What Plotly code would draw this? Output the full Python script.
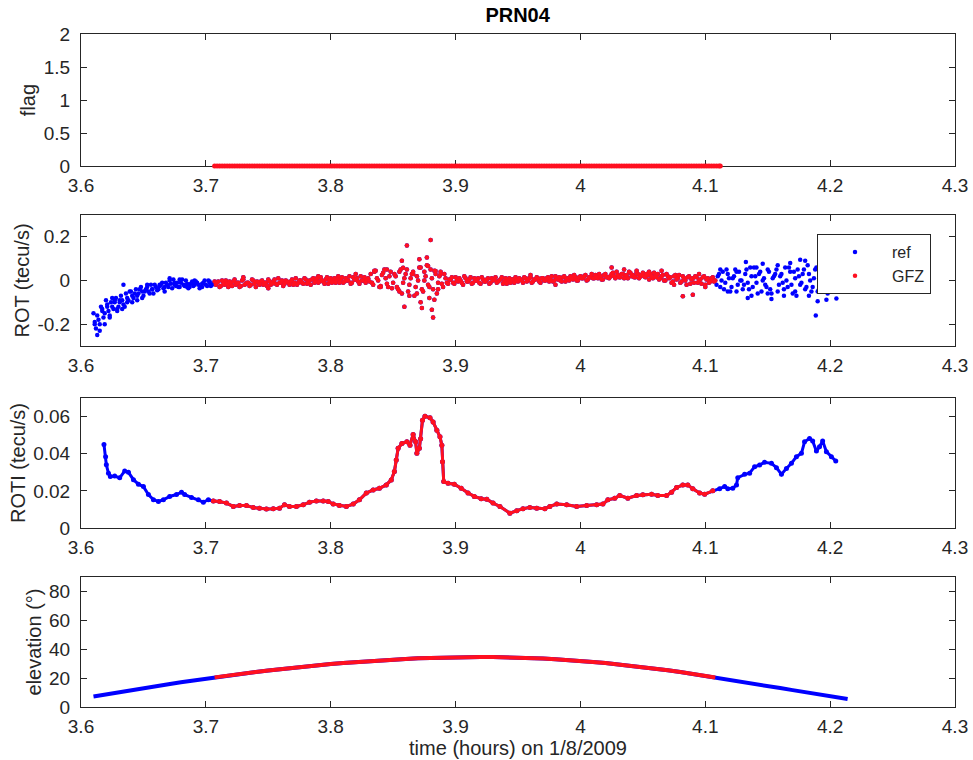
import plotly.graph_objects as go

# ---------------- DATA ----------------
# Arc of PRN04 on 1/8/2009; GFZ processed only inside this window (hours)
gfz_window = [3.707, 4.108]
flag_window = [3.707, 4.112]

# ROT (tecu/s): regular 0.002 h sampling starting at 3.610 h
rot_t0 = 3.610
rot_dt = 0.002
rot_vals = [
    # 3.610-3.630
    -0.15, -0.22, -0.18, -0.12, -0.17, -0.09, -0.14, -0.10, -0.13, -0.08, -0.12,
    # 3.632-3.660
    -0.07, -0.11, -0.06, -0.09, -0.05, -0.08, -0.04, -0.06, -0.03, -0.07, -0.04, -0.05, -0.02, -0.06, -0.03,
    # 3.662-3.706
    -0.04, -0.02, -0.035, -0.01, -0.03, -0.015, 0.005, -0.025, -0.03, -0.01, -0.02, 0.0,
    -0.035, -0.015, -0.025, -0.005, -0.02, -0.03, -0.01, -0.02, 0.0, -0.025, -0.015,
    # 3.708-3.830
    -0.02, -0.005, -0.025, -0.01, 0.0, -0.03, -0.015, -0.005, -0.02, -0.01,
    -0.025, 0.005, -0.015, -0.01, -0.02, 0.0, -0.03, -0.01, -0.005, -0.02,
    -0.01, 0.005, -0.02, -0.005, -0.015, 0.01, -0.01, -0.025, 0.0, -0.01,
    -0.005, -0.02, 0.01, -0.01, 0.0, -0.015, 0.005, -0.005, -0.02, 0.01,
    0.0, -0.01, 0.015, -0.005, 0.005, -0.015, 0.01, 0.0, -0.01, 0.02,
    0.005, -0.01, 0.01, 0.0, -0.015, 0.015, 0.005, -0.005, 0.02, 0.0, -0.01, 0.01,
    # 3.832-3.850
    0.03, -0.02, 0.045, 0.0, -0.025, 0.035, 0.01, -0.03, 0.04, -0.01,
    # 3.852-3.890
    0.02, -0.04, 0.05, -0.01, 0.03, -0.05, 0.01, 0.04, -0.03, 0.0,
    0.06, -0.05, 0.02, -0.02, 0.05, -0.04, 0.03, -0.01, 0.04, -0.03,
    # 3.892-3.950
    0.01, -0.015, 0.005, -0.01, 0.015, -0.005, 0.0, -0.02, 0.01, -0.005,
    0.015, -0.01, 0.0, 0.01, -0.015, 0.005, -0.005, 0.01, -0.01, 0.0,
    0.015, -0.005, 0.005, -0.015, 0.01, 0.0, -0.01, 0.005, 0.015, -0.005,
    # 3.952-4.060
    0.005, -0.01, 0.01, 0.0, 0.015, -0.005, 0.005, 0.01, -0.01, 0.01,
    0.0, 0.015, 0.005, -0.005, 0.02, 0.005, 0.0, 0.015, -0.005, 0.01,
    0.02, 0.005, 0.015, 0.0, 0.02, 0.01, 0.025, 0.005, 0.015, 0.01,
    0.025, 0.01, 0.02, 0.005, 0.03, 0.015, 0.02, 0.035, 0.01, 0.025,
    0.015, 0.03, 0.02, 0.01, 0.035, 0.025, 0.015, 0.03, 0.02, 0.035,
    0.015, 0.025, 0.03, 0.01, 0.02,
    # 4.062-4.108
    0.03, 0.01, 0.025, 0.0, 0.02, 0.015, -0.005, 0.025, 0.01, -0.01,
    0.02, 0.0, 0.015, -0.015, 0.01, 0.02, -0.01, 0.005, 0.015, -0.02,
    0.01, -0.005, 0.015, 0.0,
    # 4.110-4.214
    0.02, -0.03, 0.04, -0.01, 0.03, -0.05, 0.01, 0.05, -0.02, 0.0,
    -0.04, 0.03, -0.01, 0.06, -0.03, 0.02, -0.06, 0.04, 0.0, -0.02,
    0.05, -0.04, 0.01, 0.03, -0.05, 0.02, -0.01, 0.06, -0.03, 0.04,
    -0.06, 0.01, 0.05, -0.02, 0.03, -0.04, 0.07, 0.0, -0.03, 0.05,
    -0.05, 0.02, -0.01, 0.04, -0.06, 0.03, 0.0, -0.04, 0.05, -0.02,
    0.02, -0.03, 0.01,
]
# ROT second interleaved sampling: 0.002 h steps starting at 3.611 h
rot_t0_b = 3.611
rot_vals_b = [
    # 3.611-3.631
    -0.20, -0.16, -0.23, -0.13, -0.15, -0.11, -0.17, -0.12, -0.09, -0.13, -0.10,
    # 3.633-3.661
    -0.09, -0.12, -0.08, -0.05, -0.10, -0.06, -0.07, -0.04, -0.08, -0.05, -0.03, -0.06, -0.04, -0.02, -0.045,
    # 3.663-3.707
    -0.025, -0.01, -0.03, -0.02, 0.0, -0.035, -0.02, -0.01, -0.03, 0.005, -0.025, -0.015,
    -0.03, -0.005, -0.02, -0.01, -0.035, -0.015, 0.0, -0.025, -0.01, -0.02, -0.005,
    # 3.709-3.831
    -0.01, -0.03, 0.0, -0.02, -0.015, -0.005, -0.025, 0.005, -0.01, -0.03,
    0.0, -0.02, -0.01, -0.025, 0.005, -0.015, -0.005, -0.02, 0.0, -0.01,
    -0.025, -0.005, -0.015, 0.005, -0.02, -0.01, 0.0, -0.015, -0.005, -0.02,
    0.005, -0.01, -0.02, 0.0, -0.01, 0.01, -0.015, 0.0, 0.005, -0.01,
    0.01, -0.005, 0.0, -0.015, 0.015, 0.0, -0.01, 0.01, 0.005, -0.01,
    0.015, -0.005, 0.0, 0.02, -0.01, 0.005, 0.01, -0.015, 0.0, 0.015, 0.005, -0.005,
    # 3.833-3.851
    -0.01, 0.04, 0.01, -0.03, 0.025, 0.05, -0.015, 0.02, -0.035, 0.03,
    # 3.853-3.891
    -0.03, 0.04, -0.06, 0.01, 0.05, -0.02, 0.03, -0.07, 0.02, 0.06,
    -0.04, 0.0, 0.07, -0.03, 0.01, 0.045, -0.06, 0.02, -0.015, 0.03,
    # 3.893-3.951
    -0.01, 0.005, 0.015, -0.015, 0.0, 0.01, -0.01, 0.02, -0.005, 0.005,
    -0.015, 0.01, 0.0, -0.01, 0.015, -0.005, 0.005, -0.015, 0.01, 0.005,
    -0.01, 0.0, 0.015, -0.005, -0.015, 0.01, 0.005, -0.01, 0.0, 0.01,
    # 3.953-4.061
    0.0, 0.015, -0.005, 0.01, -0.01, 0.005, 0.015, -0.005, 0.01, 0.0,
    0.01, -0.005, 0.02, 0.0, 0.01, 0.015, -0.005, 0.02, 0.005, 0.0,
    0.01, 0.025, 0.0, 0.015, 0.01, 0.02, 0.0, 0.015, 0.03, 0.01,
    0.015, 0.03, 0.005, 0.025, 0.015, 0.01, 0.03, 0.02, 0.04, 0.015,
    0.03, 0.01, 0.025, 0.04, 0.02, 0.015, 0.035, 0.01, 0.025, 0.02,
    0.03, 0.005, 0.02, 0.035, 0.015,
    # 4.063-4.107
    0.005, 0.02, 0.0, 0.03, 0.01, -0.01, 0.02, 0.005, 0.025, -0.005,
    0.01, -0.02, 0.02, 0.005, -0.01, 0.015, 0.0, -0.015, 0.02, 0.005,
    -0.01, 0.01, -0.005,
    # 4.109-4.213
    -0.02, 0.03, 0.0, -0.04, 0.05, 0.01, -0.03, 0.02, -0.05, 0.04,
    0.0, -0.02, 0.05, -0.04, 0.02, 0.06, -0.01, 0.03, -0.05, 0.01,
    -0.03, 0.04, -0.06, 0.02, 0.05, -0.02, 0.03, -0.04, 0.0, 0.06,
    -0.02, 0.04, -0.07, 0.02, -0.01, 0.05, -0.03, 0.03, -0.05, 0.01,
    0.06, -0.04, 0.02, -0.02, 0.04, -0.05, 0.01, 0.03, -0.03, 0.02,
    -0.01, 0.04, -0.02,
]
# additional ROT samples (spread of the cloud and spikes)
rot_extra_t = [
    3.611, 3.613, 3.615, 3.617, 3.619, 3.621, 3.623, 3.625, 3.627, 3.629,
    3.631, 3.633, 3.634, 3.637, 3.641, 3.645, 3.649, 3.653, 3.657, 3.663,
    3.667, 3.671, 3.675, 3.679, 3.685, 3.691, 3.697, 3.703,
    3.855, 3.857, 3.858, 3.859, 3.861, 3.863, 3.866, 3.869, 3.871, 3.872,
    3.873, 3.875, 3.877, 3.878, 3.879, 3.880, 3.881, 3.882, 3.883, 3.884,
    3.886, 3.888, 3.845, 3.840, 3.835, 3.820, 3.790, 3.750, 3.730, 3.960,
    3.980, 4.025, 4.035, 4.045, 4.055, 4.065, 4.075, 4.082, 4.090, 4.095,
    4.100,
    4.112, 4.118, 4.125, 4.1325, 4.134, 4.137, 4.141, 4.146, 4.150, 4.153,
    4.158, 4.163, 4.168, 4.172, 4.176, 4.180, 4.183, 4.1885, 4.190, 4.193,
    4.197, 4.200, 4.205, 4.209, 4.212,
]
rot_extra_v = [
    -0.19, -0.25, -0.20, -0.14, -0.20, -0.12, -0.16, -0.08, -0.10, -0.14,
    -0.09, -0.13, -0.02, -0.10, -0.07, -0.09, -0.05, -0.02, -0.04, -0.02,
    -0.05, 0.01, -0.01, 0.005, -0.03, 0.0, -0.03, -0.005,
    -0.05, 0.09, 0.058, -0.12, 0.16, -0.07, 0.03, -0.06, 0.097, -0.10,
    -0.126, 0.04, 0.105, 0.066, -0.08, 0.185, -0.134, -0.169, -0.088, 0.043,
    -0.04, 0.03, 0.05, -0.03, 0.045, 0.03, 0.02, -0.035, 0.015, 0.025,
    -0.02, 0.06, 0.05, 0.045, 0.04, 0.045, -0.02, -0.072, -0.065, 0.03,
    -0.03,
    0.05, -0.05, 0.04, 0.085, -0.08, -0.07, 0.06, 0.077, -0.06, -0.085,
    0.07, -0.07, 0.08, -0.05, 0.095, 0.09, -0.07, -0.16, -0.095, 0.07,
    -0.088, 0.06, -0.083, 0.04, -0.03,
]

# ROTI (tecu/s)
roti_t = [
    3.6184, 3.6197, 3.6203, 3.622, 3.6235, 3.627, 3.631, 3.635, 3.638, 3.642,
    3.646, 3.650, 3.654, 3.658, 3.662, 3.666, 3.671, 3.6765, 3.6805, 3.683,
    3.6885, 3.694, 3.698, 3.702, 3.706, 3.711, 3.7165, 3.722, 3.727, 3.7325,
    3.738, 3.743, 3.7485, 3.754, 3.759, 3.763, 3.767, 3.7725, 3.778, 3.783,
    3.7885, 3.794, 3.798, 3.802, 3.807, 3.8125, 3.818, 3.823, 3.8285, 3.834,
    3.839, 3.8445, 3.8485, 3.851, 3.8525, 3.854, 3.857, 3.861, 3.8635, 3.866,
    3.868, 3.869, 3.871, 3.872, 3.8735, 3.8755, 3.8795, 3.882, 3.885, 3.8875,
    3.889, 3.8895, 3.8905, 3.894, 3.899, 3.9045, 3.910, 3.915, 3.9205, 3.925,
    3.930, 3.9355, 3.9435, 3.949, 3.954, 3.9595, 3.965, 3.9715, 3.9755, 3.981,
    3.989, 3.997, 4.005, 4.013, 4.018, 4.022, 4.0275, 4.0315, 4.038, 4.045,
    4.050, 4.057, 4.062, 4.069, 4.073, 4.077, 4.082, 4.086, 4.090, 4.0955,
    4.0995, 4.106, 4.1115, 4.1155, 4.118, 4.122, 4.125, 4.126, 4.1315, 4.1355,
    4.1395, 4.1435, 4.1475, 4.153, 4.157, 4.161, 4.165, 4.169, 4.173, 4.177,
    4.1795, 4.1835, 4.186, 4.189, 4.1915, 4.194, 4.197, 4.201, 4.2045,
]
roti_v = [
    0.045, 0.0384, 0.034, 0.0295, 0.0277, 0.028, 0.027, 0.0307, 0.030, 0.026,
    0.0236, 0.0223, 0.018, 0.0152, 0.0143, 0.0152, 0.017, 0.018, 0.0193, 0.018,
    0.0164, 0.0152, 0.0139, 0.0152, 0.0146, 0.0143, 0.0134, 0.0116, 0.0121, 0.0121,
    0.011, 0.0107, 0.0102, 0.0104, 0.0107, 0.0125, 0.0116, 0.0116, 0.0125, 0.0139,
    0.0146, 0.0146, 0.0143, 0.0129, 0.0121, 0.0116, 0.0129, 0.0152, 0.0188, 0.0205,
    0.0214, 0.0232, 0.0259, 0.0304, 0.0366, 0.0429, 0.0455, 0.0464, 0.0446, 0.0504,
    0.0464, 0.0402, 0.0429, 0.048, 0.058, 0.0602, 0.0593, 0.0571, 0.0527, 0.0491,
    0.0446, 0.0357, 0.025, 0.0241, 0.0236, 0.0214, 0.0188, 0.017, 0.0158, 0.0155,
    0.0134, 0.0116, 0.008, 0.0093, 0.0104, 0.0111, 0.0107, 0.0104, 0.0116, 0.0129,
    0.0125, 0.0116, 0.0121, 0.0125, 0.0129, 0.0152, 0.016, 0.0175, 0.016, 0.0175,
    0.0179, 0.0182, 0.0175, 0.0175, 0.0193, 0.0218, 0.0232, 0.0232, 0.0211, 0.0188,
    0.0182, 0.020, 0.0211, 0.0223, 0.0211, 0.0214, 0.0232, 0.0271, 0.0289, 0.0295,
    0.033, 0.0339, 0.0354, 0.0348, 0.0325, 0.0289, 0.0321, 0.0348, 0.0384, 0.0402,
    0.0464, 0.0482, 0.0468, 0.0414, 0.0438, 0.0468, 0.0411, 0.0384, 0.0361,
]

# Elevation (deg)
elev_t = [
    3.61, 3.62, 3.63, 3.64, 3.65, 3.66, 3.67, 3.68, 3.69, 3.70, 3.707,
    3.71, 3.72, 3.73, 3.74, 3.75, 3.76, 3.77, 3.78, 3.79, 3.80,
    3.81, 3.82, 3.83, 3.84, 3.85, 3.86, 3.87, 3.88, 3.89, 3.90,
    3.91, 3.92, 3.93, 3.94, 3.95, 3.96, 3.97, 3.98, 3.99, 4.00,
    4.01, 4.02, 4.03, 4.04, 4.05, 4.06, 4.07, 4.08, 4.09, 4.10, 4.108,
    4.11, 4.12, 4.13, 4.14, 4.15, 4.16, 4.17, 4.18, 4.19, 4.20, 4.21, 4.214,
]
elev_v = [
    7.3, 8.8, 10.2, 11.6, 13.0, 14.4, 15.8, 17.1, 18.4, 19.7, 20.5,
    20.9, 22.1, 23.2, 24.3, 25.3, 26.3, 27.2, 28.1, 28.9, 29.7,
    30.4, 31.1, 31.7, 32.3, 32.8, 33.3, 33.7, 34.0, 34.3, 34.5,
    34.6, 34.7, 34.6, 34.5, 34.3, 34.0, 33.6, 33.1, 32.6, 31.9,
    31.2, 30.4, 29.5, 28.6, 27.6, 26.5, 25.4, 24.2, 22.9, 21.4, 20.4,
    20.1, 18.7, 17.3, 15.9, 14.5, 13.1, 11.7, 10.3, 8.9, 7.5, 6.1, 5.6,
]

# Flag (GFZ): 0 over the processed window, sampled every 0.002 h
flag_value = 0

x_ticks = [3.6, 3.7, 3.8, 3.9, 4.0, 4.1, 4.2, 4.3]
x_ticktext = ["3.6", "3.7", "3.8", "3.9", "4", "4.1", "4.2", "4.3"]

# ---------------- BUILD ----------------
BLUE = "#0000ff"
RED = "#ff1020"
FONT = "Liberation Sans, Arial, Helvetica, sans-serif"
AX = "#262626"

rot_t = ([rot_t0 + rot_dt * i for i in range(len(rot_vals))]
         + [rot_t0_b + rot_dt * i for i in range(len(rot_vals_b))]
         + rot_extra_t)
rot_v = rot_vals + rot_vals_b + rot_extra_v


def subset(ts, vs, lo, hi):
    pts = [(t, v) for t, v in zip(ts, vs) if lo - 1e-9 <= t <= hi + 1e-9]
    return [p[0] for p in pts], [p[1] for p in pts]


n_flag = int(round((flag_window[1] - flag_window[0]) / rot_dt)) + 1
flag_t = [flag_window[0] + rot_dt * i for i in range(n_flag)]
flag_t[-1] = flag_window[1]
flag_v = [flag_value] * n_flag

fig = go.Figure()

# Panel 1: flag
fig.add_trace(go.Scatter(x=flag_t, y=flag_v, mode="markers", marker=dict(color=RED, size=5),
                         cliponaxis=False, xaxis="x", yaxis="y", showlegend=False))

# Panel 2: ROT
fig.add_trace(go.Scatter(x=rot_t, y=rot_v, mode="markers", name="ref",
                         marker=dict(color=BLUE, size=4.5), xaxis="x2", yaxis="y2"))
gt, gv = subset(rot_t, rot_v, *gfz_window)
fig.add_trace(go.Scatter(x=gt, y=gv, mode="markers", name="GFZ",
                         marker=dict(color=RED, size=4.5), xaxis="x2", yaxis="y2"))

# Panel 3: ROTI
fig.add_trace(go.Scatter(x=roti_t, y=roti_v, mode="lines+markers",
                         line=dict(color=BLUE, width=3), marker=dict(color=BLUE, size=5),
                         xaxis="x3", yaxis="y3", showlegend=False))
gt, gv = subset(roti_t, roti_v, 3.706, gfz_window[1])
fig.add_trace(go.Scatter(x=gt, y=gv, mode="lines+markers",
                         line=dict(color=RED, width=3), marker=dict(color=RED, size=5),
                         xaxis="x3", yaxis="y3", showlegend=False))

# Panel 4: elevation
fig.add_trace(go.Scatter(x=elev_t, y=elev_v, mode="lines", line=dict(color=BLUE, width=4),
                         xaxis="x4", yaxis="y4", showlegend=False))
gt, gv = subset(elev_t, elev_v, *gfz_window)
fig.add_trace(go.Scatter(x=gt, y=gv, mode="lines", line=dict(color=RED, width=4),
                         xaxis="x4", yaxis="y4", showlegend=False))

H_TOP, H_BOT = 34, 707
PH = H_BOT - H_TOP


def dom(top, bottom):
    return [(H_BOT - bottom) / PH, (H_BOT - top) / PH]


domains = [dom(34, 166), dom(215, 346), dom(398, 528), dom(577, 707)]

common_axis = dict(showline=True, linecolor=AX, linewidth=1, mirror="ticks",
                   ticks="inside", ticklen=6, tickwidth=1, tickcolor=AX,
                   showgrid=False, zeroline=False,
                   tickfont=dict(family=FONT, size=19, color=AX))

y_specs = [
    dict(range=[0, 2], tickvals=[0, 0.5, 1, 1.5, 2], ticktext=["0", "0.5", "1", "1.5", "2"], title="flag"),
    dict(range=[-0.3, 0.3], tickvals=[-0.2, 0, 0.2], ticktext=["-0.2", "0", "0.2"], title="ROT (tecu/s)"),
    dict(range=[0, 0.07], tickvals=[0, 0.02, 0.04, 0.06], ticktext=["0", "0.02", "0.04", "0.06"], title="ROTI (tecu/s)"),
    dict(range=[0, 90], tickvals=[0, 20, 40, 60, 80], ticktext=["0", "20", "40", "60", "80"], title="elevation (°)"),
]

layout = dict(
    width=973, height=760,
    margin=dict(l=81, r=18, t=34, b=53, autoexpand=False),
    paper_bgcolor="white", plot_bgcolor="white",
    font=dict(family=FONT, color=AX),
    title=dict(text="<b>PRN04</b>", x=0.532, xanchor="center", y=1 - 15 / 760, yanchor="middle",
               font=dict(family=FONT, size=20, color="black")),
    legend=dict(x=(817 - 81) / 874, y=(707 - 234) / 673, xanchor="left", yanchor="top",
                bgcolor="white", bordercolor=AX, borderwidth=1,
                font=dict(family=FONT, size=16, color=AX),
                itemwidth=64, tracegroupgap=0),
)

for i in range(4):
    k = "" if i == 0 else str(i + 1)
    xa = dict(common_axis, domain=[0, 1], range=[3.6, 4.3], tickvals=x_ticks, ticktext=x_ticktext,
              anchor="y" + k, ticklabelstandoff=2)
    if i == 0:
        xa["layer"] = "below traces"
    if i == 3:
        xa["title"] = dict(text="time (hours) on 1/8/2009", font=dict(family=FONT, size=20, color=AX), standoff=0)
    spec = y_specs[i]
    ya = dict(common_axis, domain=domains[i], range=spec["range"], tickvals=spec["tickvals"],
              ticktext=spec["ticktext"], anchor="x" + k, ticklabelstandoff=6,
              title=dict(text=spec["title"], font=dict(family=FONT, size=20, color=AX), standoff=2))
    if i == 0:
        ya["layer"] = "below traces"
    layout["xaxis" + k] = xa
    layout["yaxis" + k] = ya

fig.update_layout(**layout)
fig.write_html("out.html")
